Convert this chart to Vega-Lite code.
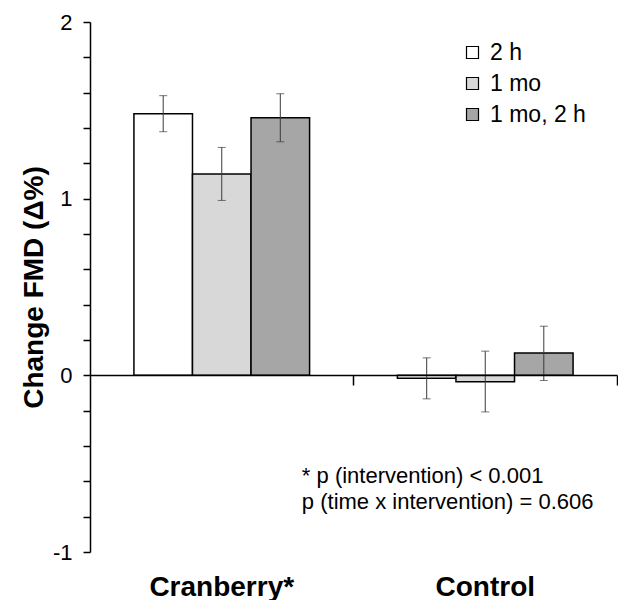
{
  "$schema": "https://vega.github.io/schema/vega-lite/v6.json",
  "width": 527,
  "height": 530,
  "autosize": {"type": "none"},
  "padding": {"left": 90, "top": 22, "right": 1, "bottom": 48},
  "background": "white",
  "config": {"view": {"stroke": null}, "font": "Liberation Sans"},
  "data": {
    "values": [
      {"group": "Cranberry*", "time": "2 h", "mean": 1.481, "lo": 1.379, "hi": 1.583},
      {"group": "Cranberry*", "time": "1 mo", "mean": 1.139, "lo": 0.99, "hi": 1.29},
      {"group": "Cranberry*", "time": "1 mo, 2 h", "mean": 1.458, "lo": 1.322, "hi": 1.594},
      {"group": "Control", "time": "2 h", "mean": -0.016, "lo": -0.133, "hi": 0.099},
      {"group": "Control", "time": "1 mo", "mean": -0.037, "lo": -0.207, "hi": 0.137},
      {"group": "Control", "time": "1 mo, 2 h", "mean": 0.126, "lo": -0.029, "hi": 0.278}
    ]
  },
  "resolve": {"axis": {"x": "independent"}},
  "layer": [
    {
      "mark": {"type": "bar", "stroke": "black", "strokeWidth": 1.5},
      "encoding": {
        "x": {
          "field": "group", "type": "nominal", "sort": ["Cranberry*", "Control"],
          "scale": {"paddingInner": 0.3333, "paddingOuter": 0.1667},
          "axis": {"orient": "bottom", "title": null, "domain": false, "ticks": false, "labelAngle": 0,
                   "labelFontSize": 28, "labelFontWeight": "bold", "labelColor": "black", "labelPadding": 21,
                   "labelFont": "Liberation Sans"}
        },
        "xOffset": {"field": "time", "type": "nominal", "sort": ["2 h", "1 mo", "1 mo, 2 h"],
                    "scale": {"paddingInner": 0, "paddingOuter": 0}},
        "y": {
          "field": "mean", "type": "quantitative",
          "scale": {"domain": [-1, 2], "nice": false, "zero": false},
          "axis": {
            "title": "Change FMD (Δ%)", "titleFontSize": 28, "titleFontWeight": "bold", "titleColor": "black",
            "titleFont": "Liberation Sans", "titlePadding": 4,
            "values": [-1, -0.8, -0.6, -0.4, -0.2, 0, 0.2, 0.4, 0.6, 0.8, 1, 1.2, 1.4, 1.6, 1.8, 2],
            "tickCount": 40,
            "labelExpr": "abs(datum.value - round(datum.value)) < 0.001 ? '' + round(datum.value) : ''",
            "labelOverlap": false, "labelBound": false, "labelFlush": false,
            "labelFontSize": 22, "labelColor": "black", "labelFont": "Liberation Sans", "labelPadding": 11,
            "tickSize": 7, "tickColor": "black", "tickWidth": 1.5,
            "domainColor": "black", "domainWidth": 1.5, "grid": false
          }
        },
        "fill": {
          "field": "time", "type": "nominal",
          "scale": {"domain": ["2 h", "1 mo", "1 mo, 2 h"], "range": ["#ffffff", "#d8d8d8", "#a6a6a6"]},
          "legend": {
            "title": null, "orient": "none", "legendX": 371, "legendY": 19, "padding": 0,
            "symbolType": "square", "symbolSize": 144, "symbolStrokeColor": "black", "symbolStrokeWidth": 1.2,
            "labelFontSize": 23, "labelColor": "black", "labelFont": "Liberation Sans", "labelOffset": 6,
            "rowPadding": 7
          }
        }
      }
    },
    {
      "mark": {"type": "rule", "color": "#3a3a3a", "strokeWidth": 1},
      "encoding": {
        "x": {
          "field": "group", "type": "nominal", "sort": ["Cranberry*", "Control"],
          "axis": {"orient": "bottom", "offset": -177, "labels": false, "title": null,
                   "domain": true, "domainColor": "black", "domainWidth": 1.5,
                   "ticks": true, "tickSize": 10, "tickColor": "black", "tickWidth": 1.5,
                   "bandPosition": 1, "tickOffset": 43.9, "zindex": 1}
        },
        "xOffset": {"field": "time", "type": "nominal", "sort": ["2 h", "1 mo", "1 mo, 2 h"]},
        "y": {"field": "lo", "type": "quantitative"},
        "y2": {"field": "hi"}
      }
    },
    {
      "mark": {"type": "tick", "color": "#3a3a3a", "size": 8, "thickness": 1},
      "encoding": {
        "x": {"field": "group", "type": "nominal", "sort": ["Cranberry*", "Control"], "axis": null},
        "xOffset": {"field": "time", "type": "nominal", "sort": ["2 h", "1 mo", "1 mo, 2 h"]},
        "y": {"field": "lo", "type": "quantitative"}
      }
    },
    {
      "mark": {"type": "tick", "color": "#3a3a3a", "size": 8, "thickness": 1},
      "encoding": {
        "x": {"field": "group", "type": "nominal", "sort": ["Cranberry*", "Control"], "axis": null},
        "xOffset": {"field": "time", "type": "nominal", "sort": ["2 h", "1 mo", "1 mo, 2 h"]},
        "y": {"field": "hi", "type": "quantitative"}
      }
    },
    {
      "data": {"values": [{"note": "annotation"}]},
      "mark": {"type": "text", "text": ["* p (intervention) < 0.001", "p (time x intervention) = 0.606"],
               "align": "left", "baseline": "middle", "fontSize": 22, "lineHeight": 26, "color": "black",
               "font": "Liberation Sans"},
      "encoding": {
        "x": {"datum": "Cranberry*", "type": "nominal", "bandPosition": 0.956, "axis": null},
        "y": {"datum": -0.572, "type": "quantitative"}
      }
    }
  ]
}
